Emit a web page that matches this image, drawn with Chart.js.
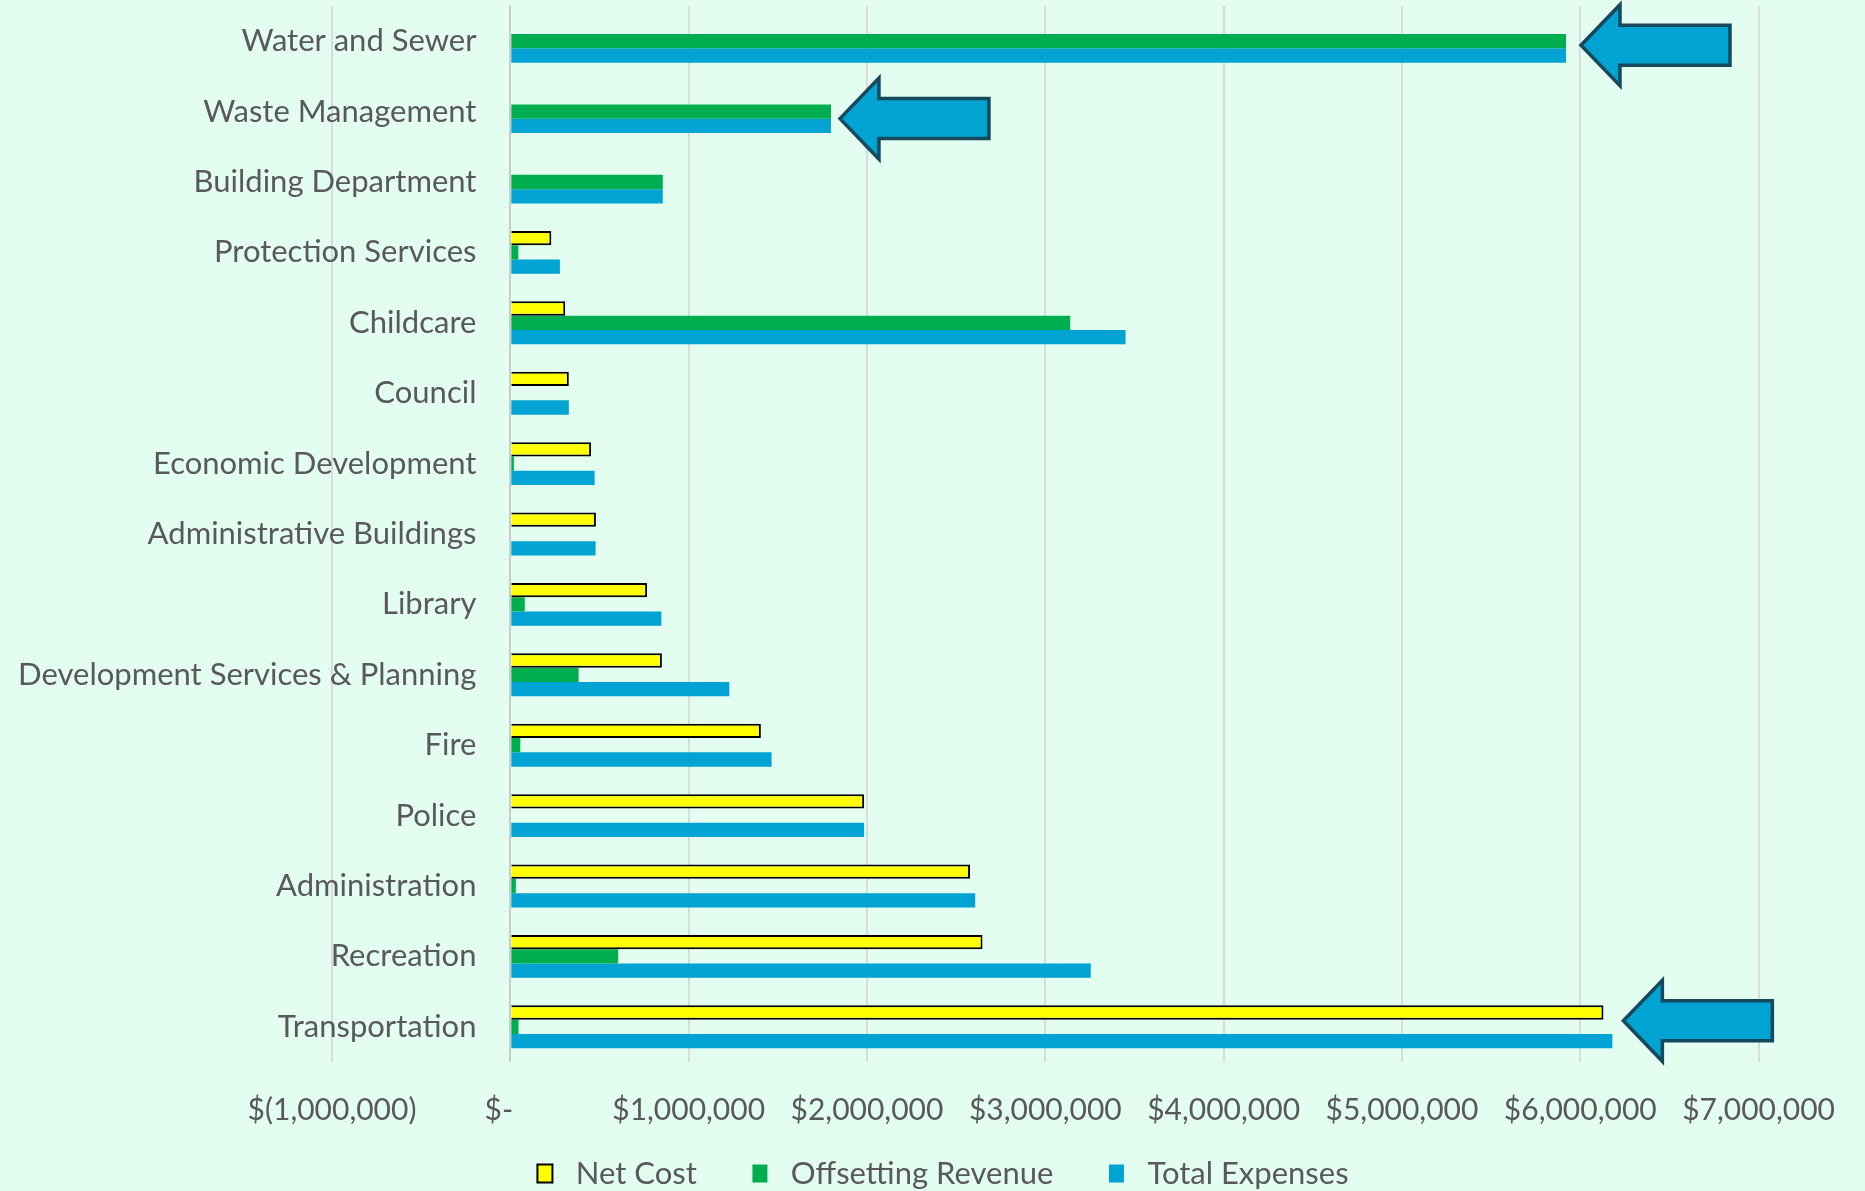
<!DOCTYPE html>
<html>
<head>
<meta charset="utf-8">
<script src="https://cdn.jsdelivr.net/npm/chart.js@4.4.1/dist/chart.umd.min.js"></script>
<style>
  html, body { margin: 0; padding: 0; background: #E3FDF0; }
  #wrap { width: 1865px; height: 1191px; position: relative; }
</style>
</head>
<body>
<div id="wrap"><canvas id="costChart"></canvas></div>
<script>
// Departments, top to bottom
const categories = [
  'Water and Sewer', 'Waste Management', 'Building Department', 'Protection Services',
  'Childcare', 'Council', 'Economic Development', 'Administrative Buildings', 'Library',
  'Development Services & Planning', 'Fire', 'Police', 'Administration', 'Recreation',
  'Transportation'
];

// Values (dollars)
const netCost = [
  0, 0, 0, 230000, 308000, 328000, 453000, 480000, 767000,
  850000, 1405000, 1984000, 2578000, 2648000, 6130000
];
const offsettingRevenue = [
  5920000, 1798000, 855000, 45000, 3140000, 0, 20000, 0, 81000,
  383000, 56000, 0, 31000, 605000, 46000
];
const totalExpenses = [
  5920000, 1798000, 855000, 278000, 3450000, 328000, 473000, 478000, 847000,
  1228000, 1465000, 1984000, 2607000, 3255000, 6180000
];

const xTickLabels = [
  '$(1,000,000)', '$-   ', '$1,000,000', '$2,000,000', '$3,000,000',
  '$4,000,000', '$5,000,000', '$6,000,000', '$7,000,000'
];

// call-out arrows pointing at the biggest bars
const arrows = [
  { category: 'Water and Sewer', dataset: 2, gap: 15, dy: 4 },
  { category: 'Waste Management', dataset: 2, gap: 9, dy: 7 },
  { category: 'Transportation', dataset: 2, gap: 11, dy: -6 }
];

const textColor = '#595959';
const fontFamily = 'Lato, "Open Sans", sans-serif';

const arrowPlugin = {
  id: 'arrows',
  afterDatasetsDraw(chart) {
    const { ctx, scales: { x, y } } = chart;
    const headLen = 39, len = 149, h = 81, shaftH = 40;
    arrows.forEach(a => {
      const idx = categories.indexOf(a.category);
      const val = chart.data.datasets[a.dataset].data[idx];
      const tipX = x.getPixelForValue(val) + a.gap;
      const cy = y.getPixelForValue(idx) + a.dy;
      ctx.save();
      ctx.beginPath();
      ctx.moveTo(tipX, cy);
      ctx.lineTo(tipX + headLen, cy - h / 2);
      ctx.lineTo(tipX + headLen, cy - shaftH / 2);
      ctx.lineTo(tipX + len, cy - shaftH / 2);
      ctx.lineTo(tipX + len, cy + shaftH / 2);
      ctx.lineTo(tipX + headLen, cy + shaftH / 2);
      ctx.lineTo(tipX + headLen, cy + h / 2);
      ctx.closePath();
      ctx.fillStyle = '#00A3D1';
      ctx.fill();
      ctx.lineWidth = 3.5;
      ctx.strokeStyle = '#16495C';
      ctx.lineJoin = 'miter';
      ctx.stroke();
      ctx.restore();
    });
  }
};

const ctx = document.getElementById('costChart').getContext('2d');
const costChart = new Chart(ctx, {
  type: 'bar',
  data: {
    labels: categories,
    datasets: [
      {
        label: 'Net Cost',
        data: netCost,
        backgroundColor: '#FFFF00',
        borderColor: '#000000',
        borderWidth: 2
      },
      {
        label: 'Offsetting Revenue',
        data: offsettingRevenue,
        backgroundColor: '#00AD4F',
        borderWidth: 0
      },
      {
        label: 'Total Expenses',
        data: totalExpenses,
        backgroundColor: '#00A3D1',
        borderWidth: 0
      }
    ]
  },
  options: {
    indexAxis: 'y',
    responsive: true,
    maintainAspectRatio: false,
    animation: false,
    categoryPercentage: 0.61,
    barPercentage: 1.0,
    layout: { padding: { left: 124, right: 103, top: 6, bottom: -8 } },
    scales: {
      x: {
        min: -1000000,
        max: 7000000,
        ticks: {
          stepSize: 1000000,
          color: textColor,
          padding: 30,
          font: { family: fontFamily, size: 30 },
          callback: (value, index) => xTickLabels[index]
        },
        grid: {
          drawTicks: false,
          lineWidth: 2,
          color: c => (c.tick && c.tick.value === 0) ? '#C9CDCA' : '#D9DCDA'
        },
        border: { display: false }
      },
      // category labels hang just left of the $0 line, like Excel's axis crossing
      y: {
        position: { x: -190000 },
        afterFit: scale => { scale.paddingTop = 0; scale.paddingBottom = 0; },
        ticks: {
          color: textColor,
          padding: 0,
          autoSkip: false,
          font: { family: fontFamily, size: 31 }
        },
        grid: { display: false, drawTicks: false },
        border: { display: false }
      },
      // empty spacer on the left, keeps room for the negative region
      yPad: {
        type: 'category',
        position: 'left',
        afterFit: scale => { scale.width = 208; },
        ticks: { display: false },
        grid: { display: false, drawTicks: false },
        border: { display: false }
      }
    },
    plugins: {
      legend: {
        position: 'bottom',
        labels: {
          color: textColor,
          boxWidth: 15,
          boxHeight: 18,
          padding: 0,
          font: { family: fontFamily, size: 31 },
          generateLabels: chart => {
            const items = Chart.defaults.plugins.legend.labels.generateLabels(chart);
            items.forEach((it, i) => {
              it.text = ' ' + it.text + (i < items.length - 1 ? '       ' : '');
            });
            return items;
          }
        }
      },
      tooltip: { enabled: false }
    }
  },
  plugins: [arrowPlugin]
});
</script>
</body>
</html>
